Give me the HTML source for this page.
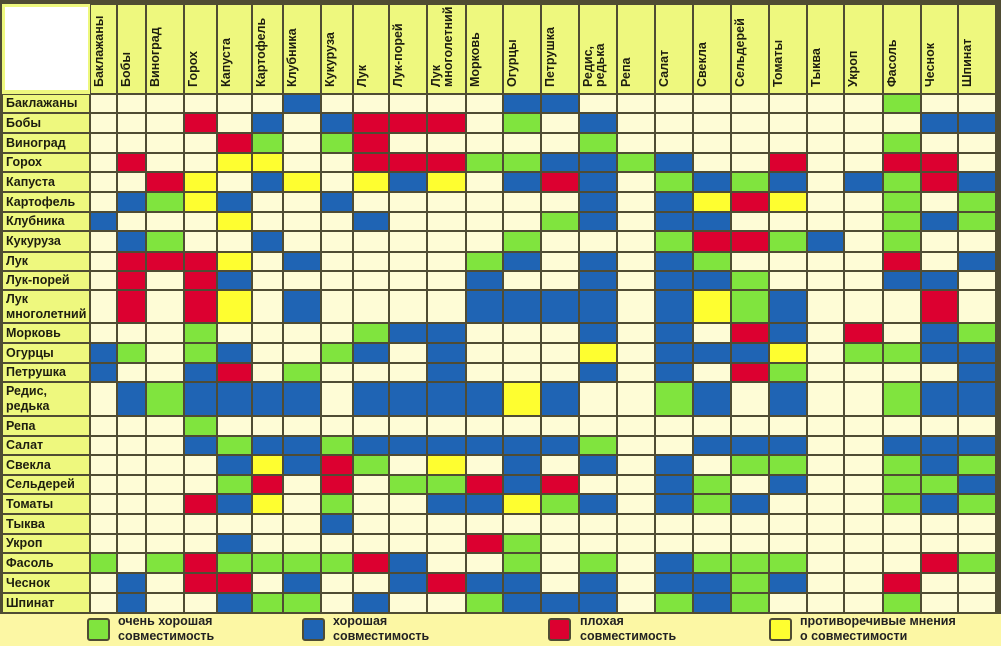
<!DOCTYPE html>
<html><head><meta charset="utf-8">
<style>
body{margin:0;width:1001px;height:646px;background:#4f4c33;position:relative;overflow:hidden;font-family:"Liberation Sans",Arial,sans-serif;}
.hd{position:absolute;top:0;left:90px;height:94px;display:flex;}
.hd div{margin:5px 1px 1px 1px;background:#eef87e;writing-mode:vertical-rl;transform:rotate(180deg);font-size:12.5px;font-weight:bold;color:#1e1e10;padding-right:2px;padding-top:6px;box-sizing:border-box;line-height:12px;overflow:hidden;white-space:nowrap;}
.lb{position:absolute;left:2px;top:94px;width:88px;display:flex;flex-direction:column;}
.lb div{margin:1px 1px 1px 1px;background:#eef87e;font-size:12.5px;font-weight:bold;color:#1e1e10;padding-left:3px;display:flex;align-items:center;line-height:15px;box-sizing:border-box;white-space:nowrap;overflow:hidden;}
.c{position:absolute;}
.leg{position:absolute;left:0;top:614px;width:1001px;height:32px;background:#fcf7a4;}
.bx{position:absolute;top:4px;width:19px;height:19px;border:2px solid #4f4c33;border-radius:3px;}
.lt{position:absolute;top:0px;font-size:12.5px;font-weight:bold;color:#222;line-height:15px;}
.wb{position:absolute;left:5px;top:7px;width:83px;height:83px;background:#fff;}
</style></head><body>
<div style="position:absolute;left:2px;top:4px;width:88px;height:90px;background:#eef87e;"></div>
<div class="wb"></div>
<div class="hd">
<div style="width:25px">Баклажаны</div>
<div style="width:27px">Бобы</div>
<div style="width:36px">Виноград</div>
<div style="width:31px">Горох</div>
<div style="width:33px">Капуста</div>
<div style="width:29px">Картофель</div>
<div style="width:36px">Клубника</div>
<div style="width:30px">Кукуруза</div>
<div style="width:34px">Лук</div>
<div style="width:36px">Лук-порей</div>
<div style="width:37px">Лук<br>многолетний</div>
<div style="width:35px">Морковь</div>
<div style="width:36px">Огурцы</div>
<div style="width:36px">Петрушка</div>
<div style="width:36px">Редис,<br>редька</div>
<div style="width:36px">Репа</div>
<div style="width:36px">Салат</div>
<div style="width:36px">Свекла</div>
<div style="width:36px">Сельдерей</div>
<div style="width:36px">Томаты</div>
<div style="width:35px">Тыква</div>
<div style="width:37px">Укроп</div>
<div style="width:36px">Фасоль</div>
<div style="width:35px">Чеснок</div>
<div style="width:36px">Шпинат</div>
</div>
<div class="lb">
<div style="height:17px">Баклажаны</div>
<div style="height:18px">Бобы</div>
<div style="height:18px">Виноград</div>
<div style="height:17px">Горох</div>
<div style="height:18px">Капуста</div>
<div style="height:18px">Картофель</div>
<div style="height:17px">Клубника</div>
<div style="height:19px">Кукуруза</div>
<div style="height:17px">Лук</div>
<div style="height:17px">Лук-порей</div>
<div style="height:31px">Лук<br>многолетний</div>
<div style="height:18px">Морковь</div>
<div style="height:18px">Огурцы</div>
<div style="height:17px">Петрушка</div>
<div style="height:32px">Редис,<br>редька</div>
<div style="height:18px">Репа</div>
<div style="height:17px">Салат</div>
<div style="height:18px">Свекла</div>
<div style="height:17px">Сельдерей</div>
<div style="height:18px">Томаты</div>
<div style="height:18px">Тыква</div>
<div style="height:17px">Укроп</div>
<div style="height:18px">Фасоль</div>
<div style="height:18px">Чеснок</div>
<div style="height:18px">Шпинат</div>
</div>
<div id="g"></div>
<div class="leg">
<div class="bx" style="left:87px;background:#80e43e"></div>
<div class="lt" style="left:118px">очень хорошая<br>совместимость</div>
<div class="bx" style="left:302px;background:#1f64b4"></div>
<div class="lt" style="left:333px">хорошая<br>совместимость</div>
<div class="bx" style="left:548px;background:#dc0030"></div>
<div class="lt" style="left:580px">плохая<br>совместимость</div>
<div class="bx" style="left:769px;background:#fefe30"></div>
<div class="lt" style="left:800px">противоречивые мнения<br>о совместимости</div>
</div>
<script>
var E=[90,117,146,184,217,252,283,321,353,389,427,466,503,541,579,617,655,693,731,769,807,844,883,921,958,996];
var R=[94,113,133,153,172,192,212,231,252,271,290,323,343,363,382,416,436,455,475,494,514,534,553,573,593,613];
var D=[
"......B.....BB........G..",
"...R.B.BRRR.G.B........BB",
"....RG.GR.....G.......G..",
".R..YY..RRRGGBBGB..R..RR.",
"..RY.BY.YBY.BRB.GBGB.BGRB",
".BGYB..B......B.BYRY..G.G",
"B...Y...B....GB.BB....GBG",
".BG..B......G...GRRGB.G..",
".RRRY.B....GB.B.BG....R.B",
".R.RB......B..B.BBG...BB.",
".R.RY.B....BBBB.BYGB...R.",
"...G....GBB...B.B.RB.R.BG",
"BG.GB..GB.B...Y.BBBY.GGBB",
"B..BR.G...B...B.B.RG....B",
".BGBBBB.BBBBYB..GB.B..GBB",
"...G.....................",
"...BGBBGBBBBBBG..BBB..BBB",
"....BYBRG.Y.B.B.B.GG..GBG",
"....GR.R.GGRBR..BG.B..GGB",
"...RBY.G..BBYGB.BGB...GBG",
".......B.................",
"....B......RG............",
"G.GRGGGGRB..G.G.BGGG...RG",
".B.RR.B..BRBB.B.BBGB..R..",
".B..BGG.B..GBBB.GBG...G.."];
var C={'.':'#fefcd6','B':'#1f64b4','G':'#80e43e','R':'#dc0030','Y':'#fefe30'};
var h='';
for(var r=0;r<25;r++){for(var c=0;c<25;c++){var ch=D[r].charAt(c)||'.';
h+='<div class="c" style="left:'+(E[c]+1)+'px;top:'+(R[r]+1)+'px;width:'+(E[c+1]-E[c]-2)+'px;height:'+(R[r+1]-R[r]-2)+'px;background:'+C[ch]+'"></div>';}}
document.getElementById('g').innerHTML=h;
</script>
</body></html>
